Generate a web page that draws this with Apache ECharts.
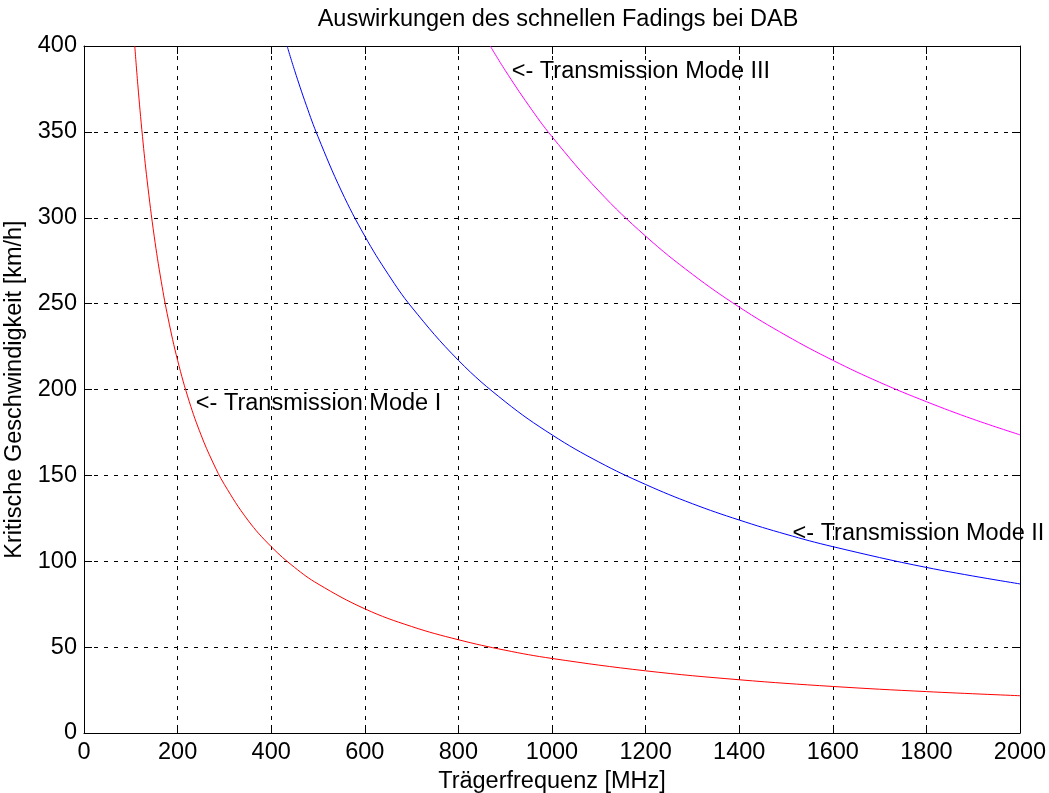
<!DOCTYPE html>
<html>
<head>
<meta charset="utf-8">
<script src="https://cdn.jsdelivr.net/npm/echarts@6/dist/echarts.min.js"></script>
<style>
  html, body { margin: 0; padding: 0; background: #fff; }
  #chart { width: 1049px; height: 793px; }
</style>
</head>
<body>
<div id="chart"></div>
<script>
// Mode I — Trägerfrequenz [MHz] / kritische Geschwindigkeit [km/h]
const mode1Freq = [108.5, 115, 125, 135, 150, 165, 180, 200, 225, 250, 275, 300, 350, 400, 450, 500, 600, 700, 800, 900, 1000, 1200, 1400, 1600, 1800, 2000];
const mode1Speed = [400, 377.4, 347.2, 321.5, 289.3, 263.0, 241.1, 217.0, 192.9, 173.6, 157.8, 144.7, 124.0, 108.5, 96.4, 86.8, 72.3, 62.0, 54.3, 48.2, 43.4, 36.2, 31.0, 27.1, 24.1, 21.7];

// Mode II
const mode2Freq = [434, 450, 475, 500, 550, 600, 650, 700, 800, 900, 1000, 1100, 1200, 1300, 1400, 1500, 1600, 1800, 2000];
const mode2Speed = [400, 385.8, 365.5, 347.2, 315.6, 289.3, 267.1, 248.0, 217.0, 192.9, 173.6, 157.8, 144.7, 133.5, 124.0, 115.7, 108.5, 96.4, 86.8];

// Mode III
const mode3Freq = [868, 900, 950, 1000, 1100, 1200, 1300, 1400, 1500, 1600, 1700, 1800, 1900, 2000];
const mode3Speed = [400, 385.8, 365.5, 347.2, 315.6, 289.3, 267.1, 248.0, 231.5, 217.0, 204.2, 192.9, 182.7, 173.6];

// Beschriftungen im Diagramm
const annotTexts = ["<- Transmission Mode I", "<- Transmission Mode II", "<- Transmission Mode III"];
const annotFreq = [239, 1514, 914];
const annotSpeed = [192, 116, 385];

const FONT = "Liberation Sans, Arial, Helvetica, sans-serif";
const FS = 23.5;
const zip = (xs, ys) => xs.map((x, i) => [x, ys[i]]);

const chart = echarts.init(document.getElementById("chart"), null, { renderer: "canvas" });

const gridLine = { show: true, lineStyle: { color: "#000", width: 1, type: [4, 6] } };
const boxLine = { show: true, onZero: false, lineStyle: { color: "#000", width: 1 } };
const inTick = { show: true, inside: true, length: 8, lineStyle: { color: "#000" } };

const curve = (name, data, color) => ({
    name,
    type: "line",
    data,
    smooth: 0.4,
    symbol: "none",
    lineStyle: { color, width: 1 },
    xAxisIndex: 0,
    yAxisIndex: 0,
    z: 3,
});

chart.setOption({
    animation: false,
    backgroundColor: "#fff",
    title: {
        text: "Auswirkungen des schnellen Fadings bei DAB",
        left: 558,
        textAlign: "center",
        top: 8,
        padding: 0,
        textStyle: { fontFamily: FONT, fontSize: FS, fontWeight: "normal", color: "#000" },
    },
    grid: { left: 84, right: 29, top: 46, bottom: 60, containLabel: false, outerBoundsMode: "none" },
    xAxis: [
        {
            type: "value",
            min: 0, max: 2000, interval: 200,
            name: "Trägerfrequenz [MHz]",
            nameLocation: "middle",
            nameGap: 37,
            nameTextStyle: { fontFamily: FONT, fontSize: FS, color: "#000" },
            axisLine: boxLine,
            axisTick: inTick,
            axisLabel: { fontFamily: FONT, fontSize: FS, color: "#000", margin: 8, formatter: (v) => String(v) },
            splitLine: gridLine,
        },
        {
            type: "value", position: "top",
            min: 0, max: 2000, interval: 200,
            axisLine: boxLine,
            axisTick: inTick,
            axisLabel: { show: false },
            splitLine: { show: false },
        },
    ],
    yAxis: [
        {
            type: "value",
            min: 0, max: 400, interval: 50,
            name: "Kritische Geschwindigkeit [km/h]",
            nameLocation: "middle",
            nameGap: 43,
            nameTextStyle: { fontFamily: FONT, fontSize: FS, color: "#000" },
            axisLine: boxLine,
            axisTick: inTick,
            axisLabel: { fontFamily: FONT, fontSize: FS, color: "#000", margin: 7, formatter: (v) => String(v) },
            splitLine: gridLine,
        },
        {
            type: "value", position: "right",
            min: 0, max: 400, interval: 50,
            axisLine: boxLine,
            axisTick: inTick,
            axisLabel: { show: false },
            splitLine: { show: false },
        },
    ],
    series: [
        curve("Mode I", zip(mode1Freq, mode1Speed), "#ff0000"),
        curve("Mode II", zip(mode2Freq, mode2Speed), "#0000ff"),
        curve("Mode III", zip(mode3Freq, mode3Speed), "#ff00ff"),
        {
            name: "Beschriftung",
            type: "scatter",
            symbolSize: 0,
            silent: true,
            clip: false,
            z: 5,
            itemStyle: { opacity: 1 },
            data: annotTexts.map((t, i) => ({ value: [annotFreq[i], annotSpeed[i]], name: t })),
            label: {
                show: true,
                position: "right",
                distance: 0,
                formatter: (p) => p.name,
                fontFamily: FONT,
                fontSize: FS,
                color: "#000",
                opacity: 1,
            },
        },
    ],
});
</script>
</body>
</html>
